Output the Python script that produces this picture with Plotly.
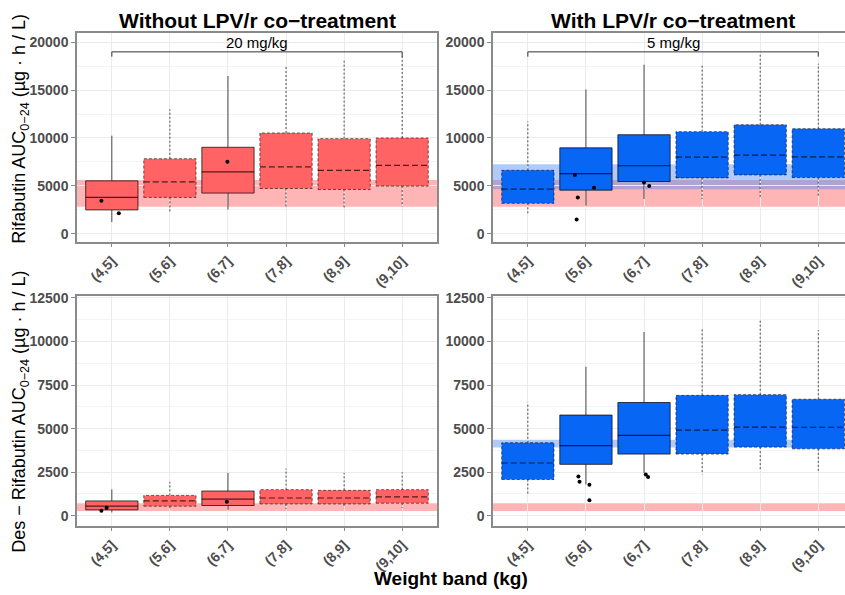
import plotly.graph_objects as go

# ---------------------------------------------------------------- data
bands = ["(4,5]", "(5,6]", "(6,7]", "(7,8]", "(8,9]", "(9,10]"]

# Rifabutin AUC0-24 without LPV/r (20 mg/kg)
rif_no_lo = [1210, 2240, 2520, 2690, 2690, 2830]
rif_no_q1 = [2480, 3790, 4240, 4720, 4620, 4970]
rif_no_med = [3790, 5410, 6450, 6970, 6620, 7140]
rif_no_q3 = [5520, 7830, 9030, 10520, 9930, 10000]
rif_no_hi = [10240, 13000, 16480, 17590, 18070, 18600]
no_observed = [True, False, True, False, False, False]

# Rifabutin AUC0-24 with LPV/r (5 mg/kg)
rif_lpv_lo = [2000, 2930, 3620, 3620, 3620, 3970]
rif_lpv_q1 = [3170, 4550, 5450, 5830, 6140, 5860]
rif_lpv_med = [4660, 6280, 7100, 8000, 8210, 8030]
rif_lpv_q3 = [6620, 8970, 10340, 10660, 11380, 10970]
rif_lpv_hi = [11720, 15070, 17660, 17760, 18790, 17760]
lpv_observed = [False, True, True, False, False, False]

# Des-rifabutin AUC0-24 without LPV/r
des_no_lo = [190, 340, 340, 380, 440, 440]
des_no_q1 = [341, 550, 590, 680, 680, 720]
des_no_med = [549, 850, 950, 1020, 1020, 1080]
des_no_q3 = [852, 1170, 1420, 1500, 1460, 1500]
des_no_hi = [1515, 1950, 2460, 2710, 2460, 2500]

# Des-rifabutin AUC0-24 with LPV/r
des_lpv_lo = [1270, 1800, 2460, 2370, 2560, 2460]
des_lpv_q1 = [2080, 2950, 3540, 3540, 3940, 3840]
des_lpv_med = [3030, 4030, 4620, 4910, 5090, 5080]
des_lpv_q3 = [4190, 5780, 6500, 6910, 6950, 6690]
des_lpv_hi = [6500, 8560, 10550, 10740, 11270, 10660]

# observed individual exposures (band index, value, horizontal jitter)
rif_no_obs_band = [0, 0, 2]
rif_no_obs_val = [3450, 2140, 7520]
rif_no_obs_jit = [-0.18, 0.12, -0.01]

rif_lpv_obs_band = [1, 1, 1, 1, 2, 2]
rif_lpv_obs_val = [6140, 3790, 4790, 1480, 5340, 4970]
rif_lpv_obs_jit = [-0.19, -0.14, 0.14, -0.16, 0.0, 0.09]

des_no_obs_band = [0, 0, 2]
des_no_obs_val = [284, 455, 810]
des_no_obs_jit = [-0.18, -0.09, -0.02]

des_lpv_obs_band = [1, 1, 1, 1, 2, 2]
des_lpv_obs_val = [2250, 1950, 1780, 890, 2370, 2220]
des_lpv_obs_jit = [-0.13, -0.11, 0.06, 0.06, 0.03, 0.07]

# reference exposure ranges
rif_ref_adult = [2800, 5600]
rif_ref_lpv = [4650, 7250]
des_ref_adult = [280, 720]
des_ref_lpv = [3920, 4360]

doses = ["20 mg/kg", "5 mg/kg"]
dose_bracket_y = 19000
dose_bracket_tick = 18500
dose_label_y = 20000

# ---------------------------------------------------------------- styles
FONT = "Liberation Sans, Arial, sans-serif"
RED_BOX = "#ff6363"
BLUE_BOX = "#0866f5"
RED_BAND = "rgba(255, 90, 90, 0.45)"
BLUE_BAND = "rgba(80, 140, 245, 0.45)"
LINE = "rgba(0,0,0,0.7)"
HALF_W = 0.45

fig = go.Figure()


def add_panel(xa, ya, lo, q1, med, q3, hi, observed, fill):
    for i in range(len(bands)):
        dashed = not observed[i]
        wdash = "2px,2px" if dashed else "solid"
        bdash = "3px,2px" if dashed else "solid"
        mdash = "6px,3px" if dashed else "solid"
        bw = 0.8 if dashed else 1
        # whiskers
        fig.add_trace(go.Scatter(
            x=[i, i, None, i, i], y=[q3[i], hi[i], None, q1[i], lo[i]],
            mode="lines", line=dict(color=LINE, width=1, dash=wdash),
            xaxis=xa, yaxis=ya, showlegend=False, hoverinfo="skip"))
        # box body
        fig.add_trace(go.Scatter(
            x=[i - HALF_W, i + HALF_W, i + HALF_W, i - HALF_W, i - HALF_W],
            y=[q1[i], q1[i], q3[i], q3[i], q1[i]],
            mode="lines", fill="toself", fillcolor=fill,
            line=dict(color=LINE, width=bw, dash=bdash),
            xaxis=xa, yaxis=ya, showlegend=False, hoverinfo="skip"))
        # median
        fig.add_trace(go.Scatter(
            x=[i - HALF_W, i + HALF_W], y=[med[i], med[i]],
            mode="lines", line=dict(color=LINE, width=1.2, dash=mdash),
            xaxis=xa, yaxis=ya, showlegend=False, hoverinfo="skip"))


def add_points(xa, ya, band_idx, vals, jit):
    fig.add_trace(go.Scatter(
        x=[b + j for b, j in zip(band_idx, jit)], y=vals, mode="markers",
        marker=dict(color="black", size=4), xaxis=xa, yaxis=ya,
        showlegend=False, hoverinfo="skip"))


def add_band(xa, ya, rng, color):
    fig.add_shape(type="rect", xref=f"{xa} domain", yref=ya,
                  x0=0, x1=1, y0=rng[0], y1=rng[1],
                  fillcolor=color, line=dict(width=0), layer="below")


def add_dose(xa, ya, label):
    n = len(bands) - 1
    fig.add_trace(go.Scatter(
        x=[0, 0, n, n],
        y=[dose_bracket_tick, dose_bracket_y, dose_bracket_y, dose_bracket_tick],
        mode="lines", line=dict(color="#333333", width=1),
        xaxis=xa, yaxis=ya, showlegend=False, hoverinfo="skip"))
    fig.add_annotation(x=n / 2, y=dose_label_y, xref=xa, yref=ya, text=label,
                       xanchor="center", yanchor="middle", showarrow=False,
                       font=dict(family=FONT, size=15, color="black"))


# reference ranges
add_band("x", "y", rif_ref_adult, RED_BAND)
add_band("x2", "y2", rif_ref_adult, RED_BAND)
add_band("x2", "y2", rif_ref_lpv, BLUE_BAND)
add_band("x3", "y3", des_ref_adult, RED_BAND)
add_band("x4", "y4", des_ref_adult, RED_BAND)
add_band("x4", "y4", des_ref_lpv, BLUE_BAND)

add_panel("x", "y", rif_no_lo, rif_no_q1, rif_no_med, rif_no_q3, rif_no_hi, no_observed, RED_BOX)
add_panel("x2", "y2", rif_lpv_lo, rif_lpv_q1, rif_lpv_med, rif_lpv_q3, rif_lpv_hi, lpv_observed, BLUE_BOX)
add_panel("x3", "y3", des_no_lo, des_no_q1, des_no_med, des_no_q3, des_no_hi, no_observed, RED_BOX)
add_panel("x4", "y4", des_lpv_lo, des_lpv_q1, des_lpv_med, des_lpv_q3, des_lpv_hi, lpv_observed, BLUE_BOX)

add_points("x", "y", rif_no_obs_band, rif_no_obs_val, rif_no_obs_jit)
add_points("x2", "y2", rif_lpv_obs_band, rif_lpv_obs_val, rif_lpv_obs_jit)
add_points("x3", "y3", des_no_obs_band, des_no_obs_val, des_no_obs_jit)
add_points("x4", "y4", des_lpv_obs_band, des_lpv_obs_val, des_lpv_obs_jit)

add_dose("x", "y", doses[0])
add_dose("x2", "y2", doses[1])

# ---------------------------------------------------------------- axes
W, H = 845, 595
left_dom = [77 / W, 437 / W]
right_dom = [493 / W, 1.0]
top_dom = [1 - 238 / H, 1 - 27 / H]
bot_dom = [1 - 525 / H, 1 - 293 / H]

BORDER = "#8a8a8a"
TICKFONT = dict(family=FONT, size=14, color="#4d4d4d", weight="bold")


def xaxis(dom, anchor, rng):
    return dict(domain=dom, anchor=anchor, range=rng,
                tickvals=list(range(len(bands))), ticktext=bands, tickangle=-45,
                tickfont=TICKFONT, showgrid=True, gridcolor="#ebebeb", gridwidth=1,
                zeroline=False, showline=True, linecolor=BORDER, linewidth=1.5,
                mirror=True, ticks="outside", ticklen=4, tickcolor=BORDER)


def yaxis(dom, anchor, rng, dtick, mirror):
    return dict(domain=dom, anchor=anchor, range=rng, dtick=dtick, tick0=0,
                tickformat="d", tickfont=TICKFONT, showgrid=True,
                gridcolor="#ebebeb", gridwidth=1,
                minor=dict(dtick=dtick / 2, tick0=0, showgrid=True,
                           gridcolor="#f4f4f4", gridwidth=1),
                zeroline=False, showline=True, linecolor=BORDER, linewidth=1.5,
                mirror=mirror, ticks="outside", ticklen=4, tickcolor=BORDER)


fig.update_layout(
    width=W, height=H,
    margin=dict(l=0, r=0, t=0, b=0),
    paper_bgcolor="white", plot_bgcolor="white",
    font=dict(family=FONT),
    xaxis=xaxis(left_dom, "y", [-0.6, 5.6]),
    xaxis2=xaxis(right_dom, "y2", [-0.6, 5.46]),
    xaxis3=xaxis(left_dom, "y3", [-0.6, 5.6]),
    xaxis4=xaxis(right_dom, "y4", [-0.6, 5.46]),
    yaxis=yaxis(top_dom, "x", [-830, 21000], 5000, True),
    yaxis2=yaxis(top_dom, "x2", [-830, 21000], 5000, False),
    yaxis3=yaxis(bot_dom, "x3", [-570, 12610], 2500, True),
    yaxis4=yaxis(bot_dom, "x4", [-570, 12610], 2500, False),
)

# ---------------------------------------------------------------- titles
def paper_text(px, py, text, size, bold=False, angle=0):
    fig.add_annotation(x=px / W, y=1 - py / H, xref="paper", yref="paper",
                       xanchor="center", yanchor="middle", text=text,
                       textangle=angle, showarrow=False,
                       font=dict(family=FONT, size=size, color="black",
                                 weight="bold" if bold else "normal"))


paper_text(257, 15, "Without LPV/r co−treatment", 21, bold=True)
paper_text(673, 15, "With LPV/r co−treatment", 21, bold=True)
paper_text(451, 578, "Weight band (kg)", 19, bold=True)
paper_text(21, 124, "Rifabutin AUC<sub>0−24</sub> (µg · h / L)", 18, angle=-90)
paper_text(21, 410, "Des − Rifabutin AUC<sub>0−24</sub> (µg · h / L)", 18, angle=-90)

fig.write_html("out.html")
